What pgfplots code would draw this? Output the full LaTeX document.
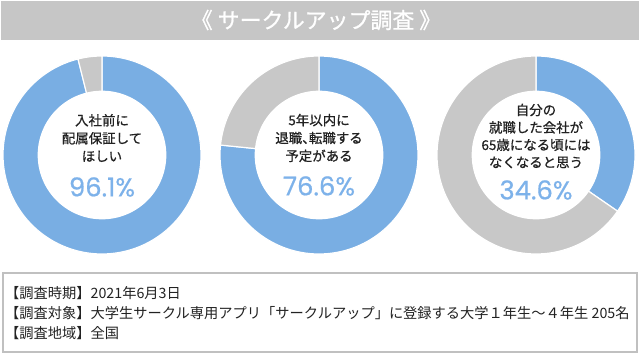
\documentclass[border=0pt]{standalone}
\usepackage{fontspec}
\setmainfont{Noto Sans CJK JP}
\newfontfamily\medfont[FakeBold=0.8]{Noto Sans CJK JP}
\newfontfamily\pctfont[FakeBold=0.6]{Poppins}
\usepackage{pgfplots}
\pgfplotsset{compat=1.18}
\definecolor{cblue}{HTML}{79AEE3}
\definecolor{cgray}{HTML}{C8C8C8}
\definecolor{barg}{HTML}{C6C6C6}
\definecolor{pctblue}{HTML}{7DB2EA}
\definecolor{boxg}{HTML}{C0C0C0}
\definecolor{txt}{HTML}{222222}
\pgfplotsset{donut/.style={hide axis, x=99bp, y=99bp, xmin=-1, xmax=1, ymin=-1, ymax=1,
  clip=false, anchor=center, samples=120, variable=\t}}
\newcommand\donut[2]{%
  \begin{axis}[donut, at={(#1bp,-155bp)}]
  \addplot[fill=cblue, draw=white, line width=1.2pt, domain=0:#2] ({sin(3.6*\t)},{cos(3.6*\t)}) -- (axis cs:0,0) -- cycle;
  \addplot[fill=cgray, draw=white, line width=1.2pt, domain=#2:100] ({sin(3.6*\t)},{cos(3.6*\t)}) -- (axis cs:0,0) -- cycle;
  \addplot[fill=white, draw=none, domain=0:360] ({0.65*cos(\t)},{0.65*sin(\t)});
  \end{axis}}
\begin{document}
\begin{tikzpicture}
\fill[white] (0,0) rectangle (640bp,-355bp);
\fill[barg] (1bp,-1bp) rectangle (639bp,-40bp);
\node[white, font=\medfont\fontsize{22}{22}\selectfont] at (316bp,-20bp) {《 サークルアップ調査 》};
\donut{102}{96.1}
\donut{319}{76.6}
\donut{536}{34.6}
\begin{scope}[font=\medfont\fontsize{13.5}{18}\selectfont, txt]
\node[align=center] at (102bp,-138bp) {入社前に\\配属保証して\\ほしい};
\node[align=center] at (319bp,-138bp) {5年以内に\\退職、\kern-0.5em転職する\\予定がある};
\node[align=center, font=\medfont\fontsize{13.5}{17.5}\selectfont] at (536bp,-136bp) {自分の\\就職した会社が\\65歳になる頃には\\なくなると思う};
\end{scope}
\begin{scope}[font=\pctfont\fontsize{26}{26}\selectfont, pctblue]
\node at (102bp,-187bp) {96.1\%};
\node at (319bp,-186bp) {76.6\%};
\node at (536bp,-190bp) {34.6\%};
\end{scope}
\draw[boxg, line width=1.2bp] (3bp,-273bp) rectangle (637bp,-352bp);
\begin{scope}[font=\fontsize{14.3}{14.3}\selectfont, txt]
\node[anchor=west, inner sep=0pt] at (5bp,-293bp) {【調査時期】2021年6月3日};
\node[anchor=west, inner sep=0pt] at (5bp,-313bp) {【調査対象】大学生サークル専用アプリ「サークルアップ」に登録する大学１年生～４年生 205名};
\node[anchor=west, inner sep=0pt] at (5bp,-333bp) {【調査地域】全国};
\end{scope}
\end{tikzpicture}
\end{document}
